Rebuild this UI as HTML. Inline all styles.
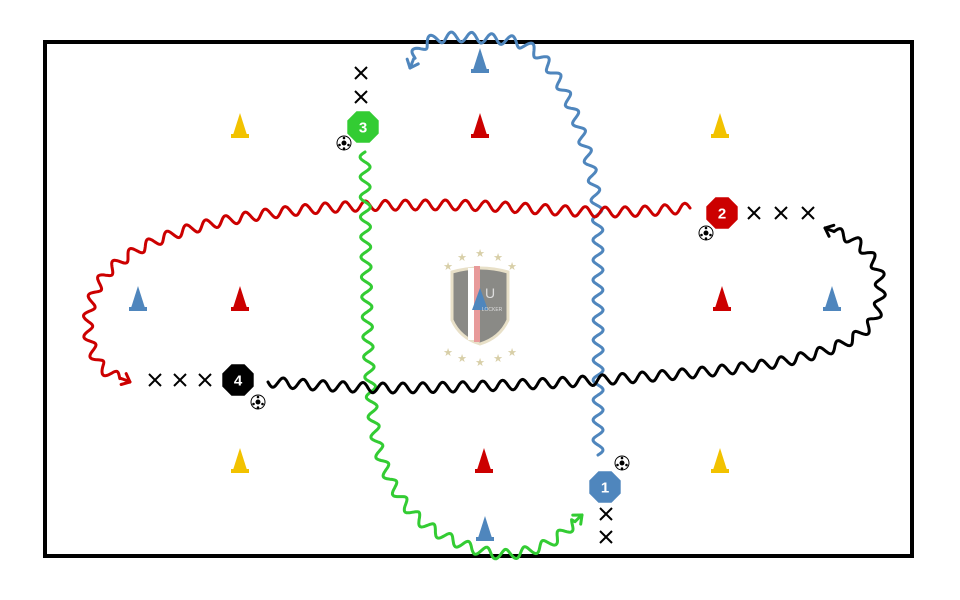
<!DOCTYPE html>
<html><head><meta charset="utf-8"><style>
html,body{margin:0;padding:0;background:#fff;}
svg{display:block;}
</style></head><body>
<svg id="s" width="960" height="600" viewBox="0 0 960 600" xmlns="http://www.w3.org/2000/svg">
<rect x="45" y="42" width="867" height="514" fill="#fff" stroke="#000" stroke-width="4"/>
<g id="waves" fill="none" stroke-width="3" stroke-linecap="round" stroke-linejoin="round"></g>
<g id="cones"></g>
<g transform="translate(480,300)">
<g fill="#d8cfa8" font-family="Liberation Sans,sans-serif" font-size="11" text-anchor="middle">
<text x="-18" y="-39">★</text><text x="0" y="-43">★</text><text x="18" y="-39">★</text>
<text x="-32" y="-30">★</text><text x="32" y="-30">★</text>
<text x="-32" y="56">★</text><text x="32" y="56">★</text>
<text x="-18" y="62">★</text><text x="0" y="66">★</text><text x="18" y="62">★</text>
</g>
<path d="M-28,-28 Q0,-36 28,-28 L28,20 Q20,38 0,44 Q-20,38 -28,20 Z" fill="#8a8a86" stroke="#e8e0c8" stroke-width="3"/>
<rect x="-12" y="-32" width="6" height="72" fill="#fff"/>
<rect x="-6" y="-34" width="6" height="76" fill="#e89a9a"/>
<polygon points="0,-12 -8,10 8,10" fill="#4f86bd"/>
<text x="10" y="-2" font-family="Liberation Sans,sans-serif" font-size="14" fill="#ddd" text-anchor="middle">U</text>
<text x="12" y="11" font-family="Liberation Sans,sans-serif" font-size="5" fill="#ddd" text-anchor="middle">LOCKER</text>
</g>
<g id="players" font-family="Liberation Sans,sans-serif" font-weight="bold" font-size="15" text-anchor="middle"></g>
</svg>
<script>
var NS="http://www.w3.org/2000/svg";
function el(t,a,p){var e=document.createElementNS(NS,t);for(var k in a)e.setAttribute(k,a[k]);p.appendChild(e);return e;}
function cr(pts){var out=[];for(var i=0;i<pts.length-1;i++){var p0=pts[Math.max(0,i-1)],p1=pts[i],p2=pts[i+1],p3=pts[Math.min(pts.length-1,i+2)];
for(var t=0;t<1;t+=0.002){var t2=t*t,t3=t2*t;var f=function(a,b,c,d){return 0.5*((2*b)+(-a+c)*t+(2*a-5*b+4*c-d)*t2+(-a+3*b-3*c+d)*t3)};
out.push([f(p0[0],p1[0],p2[0],p3[0]),f(p0[1],p1[1],p2[1],p3[1])]);}}out.push(pts[pts.length-1]);return out;}
function resample(s,step){var out=[s[0]],acc=0;for(var i=1;i<s.length;i++){acc+=Math.hypot(s[i][0]-s[i-1][0],s[i][1]-s[i-1][1]);if(acc>=step){out.push(s[i]);acc=0;}}out.push(s[s.length-1]);return out;}
function wave(pts,col){var s=resample(cr(pts),1);var L=0,d="",amp=5,wl=20;var lastDir=[1,0];
for(var i=0;i<s.length;i++){var a=s[Math.max(0,i-3)],b=s[Math.min(s.length-1,i+3)];var dx=b[0]-a[0],dy=b[1]-a[1],n=Math.hypot(dx,dy)||1;
if(i>0)L+=Math.hypot(s[i][0]-s[i-1][0],s[i][1]-s[i-1][1]);var end=i>s.length-12?0:1;
var o=amp*Math.sin(L/wl*2*Math.PI)*end;var x=s[i][0]-dy/n*o,y=s[i][1]+dx/n*o;d+=(i?"L":"M")+x.toFixed(1)+","+y.toFixed(1);lastDir=[dx/n,dy/n];}
el("path",{d:d,stroke:col},document.getElementById("waves"));
var e=s[s.length-1],u=lastDir,px=-u[1],py=u[0];
el("path",{d:"M"+(e[0]-u[0]*7+px*6)+","+(e[1]-u[1]*7+py*6)+"L"+e[0]+","+e[1]+"L"+(e[0]-u[0]*7-px*6)+","+(e[1]-u[1]*7-py*6),stroke:col,"stroke-width":3,fill:"none"},document.getElementById("waves"));}
wave([[598,455],[598,300],[596,200],[580,130],[555,75],[525,45],[480,38],[440,38],[420,48],[410,68]],"#4f86bd");
wave([[690,208],[600,212],[450,205],[300,210],[180,232],[110,270],[88,320],[100,365],[130,382]],"#cc0000");
wave([[365,152],[366,260],[370,380],[382,460],[420,520],[490,553],[545,545],[582,515]],"#33cc33");
wave([[268,382],[400,388],[600,380],[780,362],[865,330],[880,280],[860,245],[825,228]],"#000");
var cones=document.getElementById("cones");
function cone(x,y,c){el("polygon",{points:x+","+(y-14)+" "+(x+7)+","+(y+8)+" "+(x-7)+","+(y+8),fill:c},cones);el("rect",{x:x-9,y:y+7,width:18,height:4,fill:c},cones);}
[[240,127],[720,127],[240,462],[720,462]].forEach(function(p){cone(p[0],p[1],"#f2c200")});
[[480,127],[240,300],[722,300],[484,462]].forEach(function(p){cone(p[0],p[1],"#cc0000")});
[[480,62],[138,300],[832,300],[485,530]].forEach(function(p){cone(p[0],p[1],"#4f86bd")});
var P=document.getElementById("players");
function x_(x,y){el("path",{d:"M"+(x-6)+","+(y-6)+"L"+(x+6)+","+(y+6)+"M"+(x+6)+","+(y-6)+"L"+(x-6)+","+(y+6),stroke:"#000","stroke-width":2},P);}
function ball(x,y){el("circle",{cx:x,cy:y,r:7,fill:"#fff",stroke:"#000","stroke-width":1},P);el("circle",{cx:x,cy:y,r:2.5,fill:"#000"},P);
[[0,-5],[4.5,2],[-4.5,2],[0,5.5]].forEach(function(o){el("circle",{cx:x+o[0],cy:y+o[1],r:1.3,fill:"#000"},P)});}
function player(x,y,c,n){var r=17,pts=[];for(var i=0;i<8;i++){var a=Math.PI/8+i*Math.PI/4;pts.push((x+r*Math.cos(a)).toFixed(1)+","+(y+r*Math.sin(a)).toFixed(1));}
el("polygon",{points:pts.join(" "),fill:c},P);var t=el("text",{x:x,y:y+5.5,fill:"#fff"},P);t.textContent=n;}
player(363,127,"#33cc33","3");x_(361,73);x_(361,97);ball(344,143);
player(722,213,"#cc0000","2");x_(754,213);x_(781,213);x_(808,213);ball(706,233);
player(238,380,"#000","4");x_(155,380);x_(180,380);x_(205,380);ball(258,402);
player(605,487,"#4f86bd","1");x_(606,514);x_(606,537);ball(622,463);
</script>
</body></html>
